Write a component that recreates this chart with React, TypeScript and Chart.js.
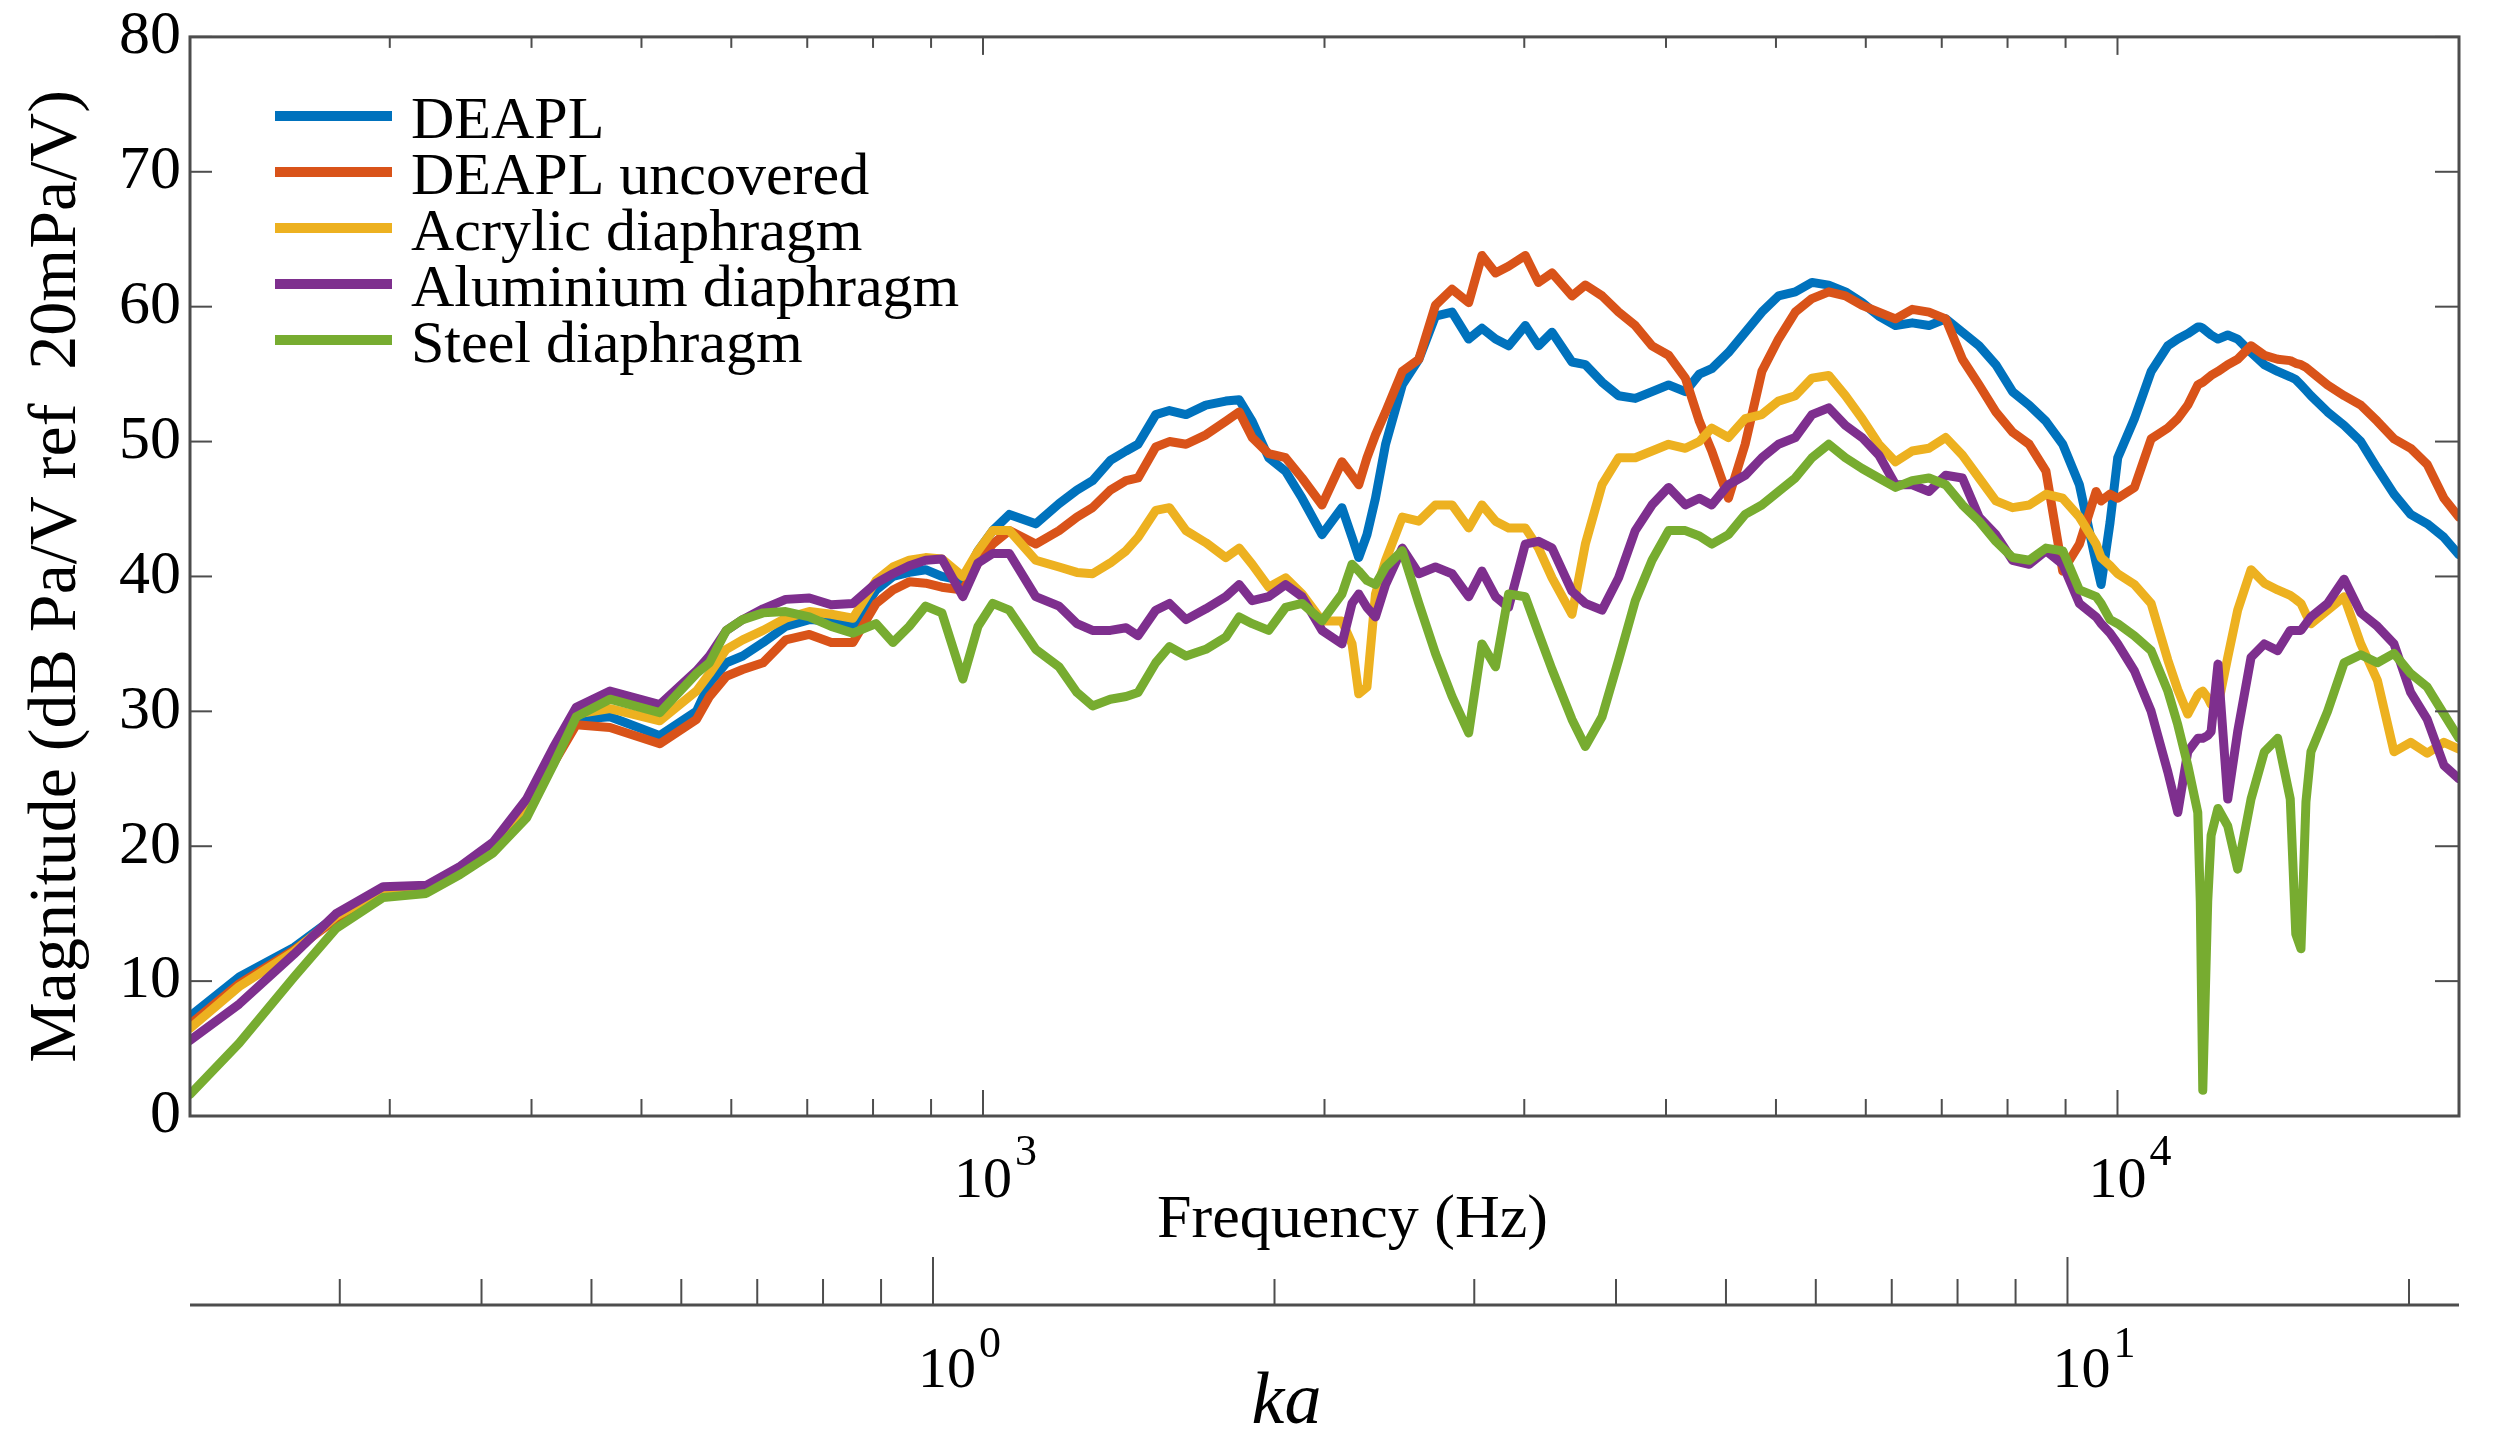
import React, { useEffect, useRef } from 'react';
import { Chart, registerables } from 'chart.js';

Chart.register(...registerables);

// ---------------- data ----------------
const FREQ_HZ = [
  200, 221, 247, 269, 296, 323, 346, 370, 396, 418, 438, 469, 519, 559,
  574, 594, 614, 640, 670, 703, 735, 768, 805, 833, 861, 890, 920, 960, 990, 1020, 1055, 1113, 1167, 1210, 1249, 1295, 1337, 1370, 1420, 1460, 1510,
  1572, 1637, 1682, 1727, 1786, 1848, 1911, 1990, 2072, 2115, 2144, 2180, 2218, 2264, 2342, 2422, 2505, 2591, 2680, 2753, 2830, 2906, 3006, 3088, 3174, 3305, 3396, 3513, 3633, 3758, 3888, 4021, 4160,
  4280,
  4389, 4540, 4697, 4859, 5026, 5200, 5379, 5565, 5757, 5955, 6161, 6373, 6593, 6821, 7056, 7300, 7551, 7812, 8082, 8360, 8649, 8948, 9256, 9576,
  9673, 9850, 10005, 10350, 10707, 11076, 11302, 11533, 11770, 11830, 11890, 12010, 12093, 12262, 12508, 12763, 13114, 13473, 13842, 14200, 14360, 14512, 14660, 14809, 15317, 15841, 16386, 16947, 17528, 18131, 18752, 19397, 20000,
];

const DEAPL = [
  7.4, 10.3, 12.5, 14.8, 16.7, 16.9, 18.2, 19.9, 22.9, 26.4, 29.4, 29.6, 28.2, 30.0,
  32.1, 33.6, 34.1, 35.1, 36.3, 36.8, 36.7, 36.3, 39.0, 40.0, 40.3, 40.5, 40.0, 39.7, 41.9, 43.4, 44.6, 43.9, 45.4, 46.4, 47.1, 48.6, 49.3, 49.8, 52.0, 52.3, 52.0,
  52.7, 53.0, 53.1, 51.5, 48.8, 47.8, 45.8, 43.1, 45.1, 42.9, 41.4, 43.1, 45.8, 49.8, 54.2, 56.1, 59.3, 59.6, 57.6, 58.4, 57.6, 57.1, 58.6, 57.1, 58.1, 55.9, 55.7, 54.4, 53.4, 53.2, 53.7, 54.2, 53.7,
  55.0,
  55.4, 56.6, 58.1, 59.6, 60.8, 61.1, 61.8, 61.6, 61.1, 60.3, 59.3, 58.6, 58.8, 58.6, 59.1, 58.1, 57.1, 55.7, 53.7, 52.7, 51.5, 49.8, 46.8, 41.0,
  39.4, 44.0, 48.8, 51.7, 55.2, 57.1, 57.6, 58.0, 58.5, 58.5, 58.4, 58.1, 57.9, 57.6, 57.9, 57.6, 56.6, 55.7, 55.2, 54.8, 54.6, 54.2, 53.8, 53.4, 52.2, 51.2, 50.0, 48.0, 46.1, 44.6, 43.9, 42.9, 41.6,
];

const DEAPL_UNCOVERED = [
  6.8, 9.8, 12.3, 14.6, 16.6, 16.8, 18.1, 19.8, 22.7, 26.1, 29.0, 28.8, 27.6, 29.4,
  31.1, 32.6, 33.1, 33.6, 35.3, 35.7, 35.1, 35.1, 38.0, 39.0, 39.6, 39.5, 39.2, 39.0, 41.0, 42.4, 43.4, 42.4, 43.4, 44.4, 45.1, 46.4, 47.1, 47.3, 49.6, 50.0, 49.8,
  50.5, 51.5, 52.2, 50.3, 49.1, 48.8, 47.3, 45.3, 48.5, 47.5, 46.8, 48.8, 50.5, 52.2, 55.2, 56.1, 60.1, 61.3, 60.3, 63.8, 62.5, 63.0, 63.8, 61.8, 62.5, 60.8, 61.6, 60.8, 59.6, 58.6, 57.1, 56.4, 54.7,
  51.5,
  49.3, 45.8, 49.8, 55.2, 57.6, 59.6, 60.6, 61.1, 60.8, 60.1, 59.6, 59.1, 59.8, 59.6, 59.1, 56.1, 54.2, 52.2, 50.7, 49.8, 47.8, 40.4, 42.4, 46.3,
  45.6, 46.1, 45.8, 46.6, 50.2, 51.0, 51.7, 52.7, 54.2, 54.3, 54.4, 54.7, 54.9, 55.2, 55.7, 56.1, 57.1, 56.4, 56.1, 56.0, 55.8, 55.7, 55.5, 55.2, 54.2, 53.4, 52.7, 51.5, 50.2, 49.5, 48.3, 45.8, 44.4,
];

const ACRYLIC = [
  6.5, 9.6, 12.2, 14.8, 16.7, 16.9, 18.2, 20.0, 23.1, 26.6, 29.8, 30.2, 29.3, 31.5,
  32.8, 34.6, 35.3, 36.0, 36.9, 37.4, 37.2, 36.9, 39.7, 40.7, 41.2, 41.4, 41.3, 40.0, 41.9, 43.4, 43.4, 41.2, 40.7, 40.3, 40.2, 41.0, 41.9, 42.9, 44.9, 45.1, 43.4,
  42.5, 41.4, 42.1, 40.9, 39.2, 39.9, 38.7, 36.7, 36.7, 35.0, 31.3, 31.8, 38.7, 41.2, 44.4, 44.1, 45.3, 45.3, 43.6, 45.3, 44.1, 43.6, 43.6, 42.1, 39.9, 37.2, 42.4, 46.8, 48.8, 48.8, 49.3, 49.8, 49.5,
  50.0,
  51.0, 50.3, 51.7, 52.0, 53.0, 53.4, 54.7, 54.9, 53.4, 51.7, 49.8, 48.5, 49.3, 49.5, 50.3, 49.0, 47.3, 45.6, 45.1, 45.3, 46.1, 45.8, 44.4, 42.4,
  41.4, 40.8, 40.2, 39.4, 38.0, 33.8, 31.6, 29.8, 31.2, 31.4, 31.5, 31.0, 30.5, 30.4, 34.0, 37.5, 40.5, 39.5, 39.0, 38.6, 38.3, 38.0, 37.2, 36.5, 37.5, 38.5, 35.0, 32.3, 27.0, 27.7, 26.9, 27.7, 27.2,
];

const ALUMINIUM = [
  5.6, 8.3, 12.0, 15.0, 17.0, 17.1, 18.5, 20.3, 23.5, 27.3, 30.3, 31.5, 30.5, 33.0,
  34.1, 36.0, 36.8, 37.6, 38.3, 38.4, 37.9, 38.0, 39.5, 40.2, 40.8, 41.2, 41.3, 38.5, 41.0, 41.7, 41.7, 38.5, 37.8, 36.5, 36.0, 36.0, 36.2, 35.6, 37.5, 38.0, 36.8,
  37.6, 38.5, 39.4, 38.2, 38.5, 39.4, 38.5, 36.0, 35.0, 38.0, 38.7, 37.7, 37.0, 39.4, 42.1, 40.2, 40.7, 40.2, 38.5, 40.4, 38.5, 37.7, 42.4, 42.6, 42.1, 38.9, 38.0, 37.5, 39.9, 43.4, 45.3, 46.6, 45.3,
  45.8,
  45.3, 46.8, 47.5, 48.8, 49.8, 50.3, 52.0, 52.5, 51.2, 50.3, 49.0, 46.8, 46.8, 46.3, 47.5, 47.3, 44.4, 43.1, 41.2, 40.9, 41.9, 40.9, 38.0, 37.0,
  36.5, 35.8, 35.0, 33.0, 30.0, 25.5, 22.5, 27.0, 28.0, 28.0, 28.0, 28.2, 28.5, 33.5, 23.5, 28.5, 34.0, 35.0, 34.5, 36.0, 36.0, 36.0, 36.5, 37.0, 38.0, 39.8, 37.3, 36.3, 35.0, 31.4, 29.4, 26.0, 25.0,
];

const STEEL = [
  1.6, 5.4, 10.3, 13.9, 16.2, 16.5, 17.9, 19.5, 22.1, 26.0, 29.6, 30.9, 29.9, 32.8,
  33.6, 36.0, 36.8, 37.3, 37.4, 37.0, 36.3, 35.8, 36.5, 35.1, 36.3, 37.8, 37.3, 32.4, 36.3, 38.0, 37.5, 34.6, 33.3, 31.4, 30.4, 30.9, 31.1, 31.4, 33.6, 34.8, 34.1,
  34.6, 35.5, 37.0, 36.5, 36.0, 37.7, 38.0, 36.7, 38.7, 40.9, 40.4, 39.7, 39.4, 40.7, 41.9, 38.0, 34.3, 31.1, 28.4, 35.0, 33.3, 38.7, 38.5, 35.8, 33.1, 29.4, 27.4, 29.6, 33.8, 38.2, 41.2, 43.4, 43.4,
  43.0,
  42.4, 43.1, 44.6, 45.3, 46.3, 47.3, 48.8, 49.8, 48.8, 48.0, 47.3, 46.6, 47.1, 47.3, 46.8, 45.3, 44.1, 42.6, 41.4, 41.2, 42.1, 41.9, 39.0, 38.5,
  38.0, 36.8, 36.5, 35.6, 34.5, 31.5, 29.0, 26.0, 22.5, 15.9, 1.9, 15.9, 20.8, 22.8, 21.5, 18.3, 23.5, 27.0, 28.0, 23.5, 13.5, 12.4, 23.3, 27.0, 30.0, 33.6, 34.2, 33.6, 34.3, 32.8, 31.8, 29.8, 28.0,
];

const SERIES_NAMES = ['DEAPL', 'DEAPL uncovered', 'Acrylic diaphragm', 'Aluminium diaphragm', 'Steel diaphragm'];
const SERIES_VALUES = [DEAPL, DEAPL_UNCOVERED, ACRYLIC, ALUMINIUM, STEEL];
const SERIES_COLORS = ['#0072BD', '#D95319', '#EDB120', '#7E2F8E', '#77AC30'];

const Y_MIN = 0;
const Y_MAX = 80;
const Y_STEP = 10;
const FREQ_MIN = 200;
const FREQ_MAX = 20000;
const HZ_PER_KA = 903.5; // ka = f / HZ_PER_KA
const FREQ_LABEL_DECADES = [3, 4];
const KA_LABEL_DECADES = [0, 1];

const Y_TITLE = 'Magnitude (dB Pa/V ref  20mPa/V)';
const X_TITLE = 'Frequency (Hz)';
const KA_TITLE = 'ka';

// ---------------- styling ----------------
const SERIF = "'Liberation Serif', 'Times New Roman', serif";
const AXIS_COLOR = '#4d4d4d';

function logTickValues(min: number, max: number) {
  const out: { v: number; major: boolean }[] = [];
  const e0 = Math.floor(Math.log10(min));
  const e1 = Math.ceil(Math.log10(max));
  for (let e = e0; e <= e1; e++) {
    for (let m = 1; m <= 9; m++) {
      const v = m * Math.pow(10, e);
      if (v > min * 1.0001 && v < max * 0.9999) out.push({ v, major: m === 1 });
    }
  }
  return out;
}

function seg(ctx: CanvasRenderingContext2D, x1: number, y1: number, x2: number, y2: number) {
  ctx.beginPath();
  ctx.moveTo(x1, y1);
  ctx.lineTo(x2, y2);
  ctx.stroke();
}

function drawPower(ctx: CanvasRenderingContext2D, cx: number, baseY: number, exp: number, size: number, supSize: number, supRise: number) {
  ctx.font = `${size}px ${SERIF}`;
  ctx.textAlign = 'left';
  ctx.textBaseline = 'alphabetic';
  ctx.fillStyle = '#000';
  const w = ctx.measureText('10').width;
  ctx.fillText('10', cx - w / 2, baseY);
  ctx.font = `${supSize}px ${SERIF}`;
  ctx.fillText(String(exp), cx + w / 2 + 3, baseY - supRise);
}

const axesPlugin = {
  id: 'matlabAxes',
  afterDraw(chart: any) {
    const ctx: CanvasRenderingContext2D = chart.ctx;
    const { left, right, top, bottom } = chart.chartArea;
    const xs = chart.scales.x;
    const ys = chart.scales.y;
    const ks = chart.scales.ka;
    ctx.save();

    // box
    ctx.strokeStyle = AXIS_COLOR;
    ctx.lineWidth = 3;
    ctx.lineCap = 'butt';
    ctx.strokeRect(left, top, right - left, bottom - top);

    // frequency ticks (inward, bottom and top)
    ctx.lineWidth = 2;
    for (const t of logTickValues(FREQ_MIN, FREQ_MAX)) {
      const px = xs.getPixelForValue(t.v);
      seg(ctx, px, bottom, px, bottom - (t.major ? 26 : 17));
      seg(ctx, px, top, px, top + (t.major ? 18 : 11));
    }
    // magnitude ticks (inward, left and right)
    for (let v = Y_MIN; v <= Y_MAX; v += Y_STEP) {
      const py = ys.getPixelForValue(v);
      seg(ctx, left, py, left + 22, py);
      seg(ctx, right, py, right - 24, py);
    }

    // frequency tick labels
    for (const e of FREQ_LABEL_DECADES) {
      const px = xs.getPixelForValue(Math.pow(10, e));
      drawPower(ctx, px, bottom + 81, e, 58, 44, 32);
    }
    // frequency title
    ctx.font = `62px ${SERIF}`;
    ctx.textAlign = 'center';
    ctx.textBaseline = 'alphabetic';
    ctx.fillStyle = '#000';
    ctx.fillText(X_TITLE, (left + right) / 2 + 28, bottom + 121);

    // ka axis
    const kaY = bottom + 189;
    ctx.strokeStyle = AXIS_COLOR;
    ctx.lineWidth = 3;
    seg(ctx, ks.left, kaY, ks.right, kaY);
    ctx.lineWidth = 2;
    for (const t of logTickValues(ks.min, ks.max)) {
      const px = ks.getPixelForValue(t.v);
      seg(ctx, px, kaY, px, kaY - (t.major ? 48 : 26));
    }
    for (const e of KA_LABEL_DECADES) {
      const px = ks.getPixelForValue(Math.pow(10, e));
      drawPower(ctx, px + 14, bottom + 271, e, 58, 44, 30);
    }
    ctx.font = `italic 74px ${SERIF}`;
    ctx.textAlign = 'center';
    ctx.fillStyle = '#000';
    ctx.fillText(KA_TITLE, (left + right) / 2 - 38, bottom + 307);

    // legend
    const lx0 = left + 85;
    const lx1 = left + 202;
    const tx = left + 221;
    ctx.font = `60px ${SERIF}`;
    ctx.textAlign = 'left';
    ctx.textBaseline = 'alphabetic';
    SERIES_NAMES.forEach((name, i) => {
      const ry = top + 79 + i * 56;
      ctx.strokeStyle = SERIES_COLORS[i];
      ctx.lineWidth = 10;
      seg(ctx, lx0, ry, lx1, ry);
      ctx.fillStyle = '#000';
      ctx.fillText(name, tx, ry + 22);
    });

    ctx.restore();
  },
};

export default function App() {
  const ref = useRef<HTMLCanvasElement>(null);

  useEffect(() => {
    if (!ref.current) return;
    const datasets = SERIES_NAMES.map((name, i) => ({
      label: name,
      data: FREQ_HZ.map((f, j) => ({ x: f, y: SERIES_VALUES[i][j] })),
      borderColor: SERIES_COLORS[i],
      backgroundColor: SERIES_COLORS[i],
      borderWidth: 9,
      pointRadius: 0,
      tension: 0,
      fill: false,
      borderJoinStyle: 'round' as const,
      borderCapStyle: 'round' as const,
      order: SERIES_NAMES.length - i,
    }));

    const chart = new Chart(ref.current, {
      type: 'line',
      data: { datasets },
      options: {
        animation: false,
        responsive: false,
        devicePixelRatio: 1,
        events: [],
        layout: { padding: { left: 0, right: 40, top: 32, bottom: 0 } },
        plugins: {
          legend: { display: false },
          tooltip: { enabled: false },
          title: { display: false },
        },
        scales: {
          x: {
            type: 'logarithmic',
            position: 'bottom',
            weight: 0,
            min: FREQ_MIN,
            max: FREQ_MAX,
            grid: { display: false, drawTicks: false, tickLength: 0 },
            border: { display: false },
            ticks: { display: false },
            afterFit: (s: any) => { s.height = 137; },
          },
          ka: {
            type: 'logarithmic',
            axis: 'x',
            position: 'bottom',
            weight: 1,
            min: FREQ_MIN / HZ_PER_KA,
            max: FREQ_MAX / HZ_PER_KA,
            grid: { display: false, drawTicks: false, tickLength: 0 },
            border: { display: false },
            ticks: { display: false },
            afterFit: (s: any) => { s.height = 196; },
          },
          y: {
            type: 'linear',
            position: 'left',
            min: Y_MIN,
            max: Y_MAX,
            grid: { display: false, drawTicks: false, tickLength: 0 },
            border: { display: false },
            ticks: {
              stepSize: Y_STEP,
              color: '#000',
              padding: 9,
              font: { family: SERIF, size: 62, lineHeight: 0.9 },
            },
            title: {
              display: true,
              text: Y_TITLE,
              color: '#000',
              font: { family: SERIF, size: 68 },
              padding: { top: 16, bottom: 0 },
            },
            afterFit: (s: any) => { s.width = 190; },
          },
        },
      } as any,
      plugins: [axesPlugin],
    });
    return () => chart.destroy();
  }, []);

  return (
    <div style={{ position: 'fixed', left: 0, top: 0, width: 2499, height: 1449, background: '#fff' }}>
      <canvas ref={ref} width={2499} height={1449} style={{ width: 2499, height: 1449, display: 'block' }} />
    </div>
  );
}
